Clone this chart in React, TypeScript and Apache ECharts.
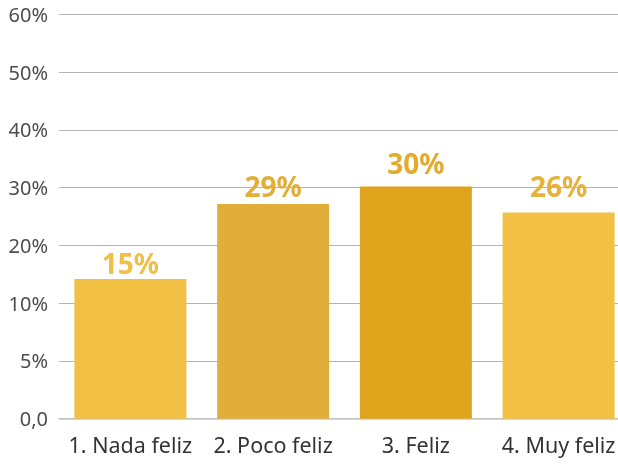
import React, { useEffect, useRef } from "react";
import * as echarts from "echarts";

// Categories on the x axis
const categories = ["1. Nada feliz", "2. Poco feliz", "3. Feliz", "4. Muy feliz"];
// Printed percentages above each bar
const percentLabels = [15, 29, 30, 26];
// Bar heights as read on the chart's (irregular) axis: one unit per tick step
const barHeights = [2.42, 3.72, 4.02, 3.57];
// Tick labels of the y axis, one per step (bottom to top)
const yTickLabels = ["0,0", "5%", "10%", "20%", "30%", "40%", "50%", "60%"];

const barColors = ["#F2C144", "#E1AE3A", "#E0A41C", "#F2C144"];
const labelColors = ["#F0BF45", "#E3AE38", "#E3AA2C", "#E6B23C"];
const labelDistances = [2, 4, 10, 13];

export default function App() {
  const ref = useRef<HTMLDivElement>(null);
  useEffect(() => {
    if (!ref.current) return;
    const chart = echarts.init(ref.current, undefined, { renderer: "svg" });
    chart.setOption({
      animation: false,
      grid: {
        left: 59,
        width: 571,
        top: 14.5,
        height: 404.2,
        containLabel: false,
        outerBoundsMode: "none",
      },
      xAxis: {
        type: "category",
        data: categories,
        axisLine: { show: true, lineStyle: { color: "#c8c8c8", width: 1.5 } },
        axisTick: { show: false },
        axisLabel: {
          color: "#333333",
          fontFamily: "Noto Sans",
          fontSize: 21.5,
          margin: 15,
          interval: 0,
        },
      },
      yAxis: {
        type: "value",
        min: 0,
        max: yTickLabels.length - 1,
        interval: 1,
        axisLine: { show: false },
        axisTick: { show: false },
        splitLine: { lineStyle: { color: "#b4b4b4", width: 1.2 } },
        axisLabel: {
          color: "#4d4d4d",
          fontFamily: "Noto Sans",
          fontSize: 20,
          margin: 11,
          formatter: (v: number) => yTickLabels[Math.round(v)] ?? "",
        },
      },
      series: [
        {
          type: "bar",
          barWidth: 112,
          data: barHeights.map((h, i) => ({
            value: h,
            itemStyle: { color: barColors[i] },
            label: {
              show: true,
              position: "top",
              distance: labelDistances[i],
              formatter: () => percentLabels[i] + "%",
              color: labelColors[i],
              fontFamily: "Noto Sans",
              fontWeight: "bold",
              fontSize: 28,
            },
          })),
        },
      ],
    });
    return () => chart.dispose();
  }, []);
  return (
    <div
      ref={ref}
      style={{ position: "fixed", left: 0, top: 0, width: 618, height: 465 }}
    />
  );
}
